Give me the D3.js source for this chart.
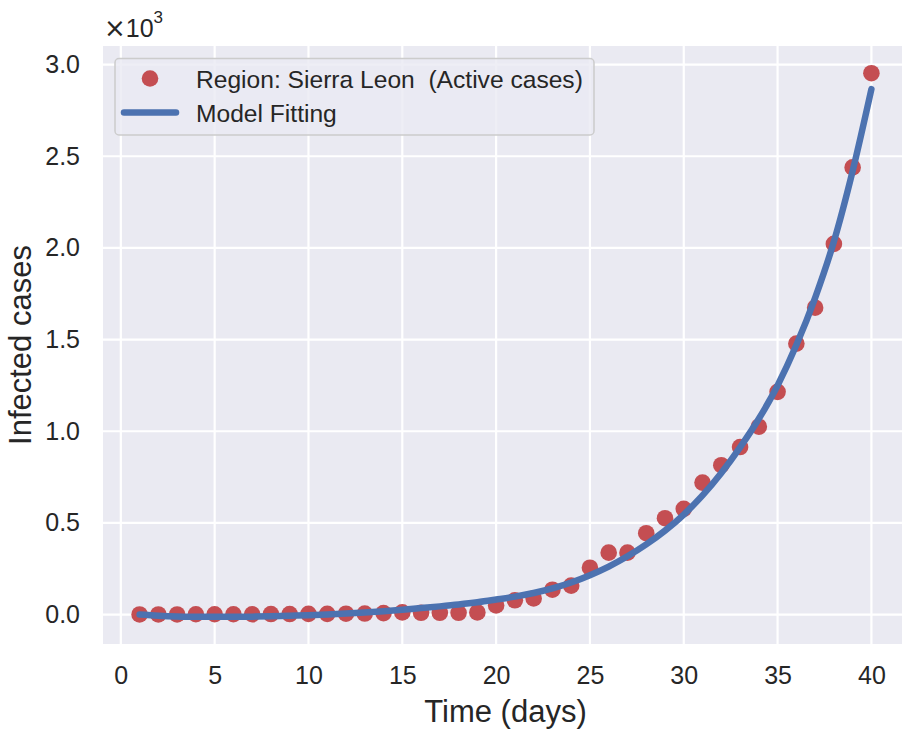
<!DOCTYPE html>
<html>
<head>
<meta charset="utf-8">
<script src="https://cdn.jsdelivr.net/npm/d3@7"></script>
<style>
  html, body { margin: 0; padding: 0; background: #ffffff; }
  svg { display: block; }
  text { font-family: "Liberation Sans", Arial, sans-serif; fill: #262626; white-space: pre; }
</style>
</head>
<body>
<svg id="chart" width="902" height="730"></svg>
<script>
// ---- data ----
const days = d3.range(1, 41);
const activeCases = [1, 1, 1, 2, 2, 2, 2, 3, 3, 4,
                     4, 5, 6, 8, 12, 10, 10, 10, 12, 50,
                     78, 88, 136, 158, 256, 338, 338, 444, 526, 577,
                     720, 815, 914, 1025, 1215, 1478, 1674, 2022, 2439, 2953];
const modelFit = [0, -6, -10, -12, -12, -12, -11, -9, -6, -3,
                  1, 6, 12, 19, 27, 36, 45, 55, 67, 82,
                  98, 118, 143, 175, 215, 262, 318, 383, 458, 546,
                  650, 772, 912, 1068, 1250, 1470, 1728, 2035, 2420, 2866];
const xTicks = [0, 5, 10, 15, 20, 25, 30, 35, 40];
const yTicks = [0, 500, 1000, 1500, 2000, 2500, 3000];
const legendLabels = ["Region: Sierra Leon  (Active cases)", "Model Fitting"];
const xLabel = "Time (days)";
const yLabel = "Infected cases";

// ---- layout ----
const svg = d3.select("#chart");
const plot = { left: 103, right: 908, top: 46, bottom: 644 };
const red = "#C44E52", blue = "#4C72B0", bg = "#EAEAF2";

const xMin = d3.min(days), xMax = d3.max(days), xPad = 0.05 * (xMax - xMin);
const x = d3.scaleLinear().domain([xMin - xPad, xMax + xPad]).range([plot.left, plot.right]);
const allY = activeCases.concat(modelFit);
const yMin = d3.min(allY), yMax = d3.max(allY), yPad = 0.05 * (yMax - yMin);
const y = d3.scaleLinear().domain([yMin - yPad, yMax + yPad]).range([plot.bottom, plot.top]);

// background
svg.append("rect").attr("x", plot.left).attr("y", plot.top)
  .attr("width", plot.right - plot.left).attr("height", plot.bottom - plot.top)
  .attr("fill", bg);

// grid
const grid = svg.append("g");
grid.selectAll(".vg").data(xTicks).join("line")
  .attr("x1", d => x(d)).attr("x2", d => x(d))
  .attr("y1", plot.top).attr("y2", plot.bottom)
  .attr("stroke", "#ffffff").attr("stroke-width", 2.2);
grid.selectAll(".hg").data(yTicks).join("line")
  .attr("y1", d => y(d)).attr("y2", d => y(d))
  .attr("x1", plot.left).attr("x2", plot.right)
  .attr("stroke", "#ffffff").attr("stroke-width", 2.2);

// axes (labels only)
const xAxis = d3.axisBottom(x).tickValues(xTicks).tickSize(0).tickPadding(22).tickFormat(d3.format("d"));
const gx = svg.append("g").attr("transform", `translate(0,${plot.bottom})`).call(xAxis);
gx.select(".domain").remove();
gx.selectAll("text").attr("font-size", 25).attr("fill", "#262626")
  .style("font-family", '"Liberation Sans", Arial, sans-serif');

const yAxis = d3.axisLeft(y).tickValues(yTicks).tickSize(0).tickPadding(23)
  .tickFormat(d => (d / 1000).toFixed(1));
const gy = svg.append("g").attr("transform", `translate(${plot.left},0)`).call(yAxis);
gy.select(".domain").remove();
gy.selectAll("text").attr("font-size", 25).attr("fill", "#262626")
  .style("font-family", '"Liberation Sans", Arial, sans-serif');

// offset text ×10^3
const off = svg.append("text").attr("x", 104).attr("y", 37).attr("font-size", 25);
off.append("tspan").style("font-family", '"DejaVu Sans", sans-serif').attr("font-size", 26).text("×");
off.append("tspan").text("10");
off.append("tspan").attr("font-size", 17).attr("dy", -14).text("3");

// axis labels
svg.append("text").attr("x", (plot.left + plot.right) / 2).attr("y", 722)
  .attr("text-anchor", "middle").attr("font-size", 31).text(xLabel);
svg.append("text").attr("transform", `translate(31,${(plot.top + plot.bottom) / 2}) rotate(-90)`)
  .attr("text-anchor", "middle").attr("font-size", 31).text(yLabel);

// data
svg.append("clipPath").attr("id", "clip").append("rect")
  .attr("x", plot.left).attr("y", plot.top)
  .attr("width", plot.right - plot.left).attr("height", plot.bottom - plot.top);
const marks = svg.append("g").attr("clip-path", "url(#clip)");
marks.selectAll("circle").data(days).join("circle")
  .attr("cx", (d) => x(d)).attr("cy", (d, i) => y(activeCases[i]))
  .attr("r", 8.3).attr("fill", red);
const line = d3.line().x((d) => x(d)).y((d, i) => y(modelFit[i])).curve(d3.curveMonotoneX);
marks.append("path").attr("d", line(days)).attr("fill", "none")
  .attr("stroke", blue).attr("stroke-width", 6.5).attr("stroke-linecap", "round")
  .attr("stroke-linejoin", "round");

// legend
const lg = svg.append("g");
lg.append("rect").attr("x", 115).attr("y", 58.5).attr("width", 479).attr("height", 76.5)
  .attr("rx", 4).attr("fill", bg).attr("fill-opacity", 0.8)
  .attr("stroke", "#cccccc").attr("stroke-width", 1.5);
lg.append("circle").attr("cx", 150).attr("cy", 78.5).attr("r", 8.3).attr("fill", red);
lg.append("line").attr("x1", 124).attr("x2", 176).attr("y1", 112.5).attr("y2", 112.5)
  .attr("stroke", blue).attr("stroke-width", 6.5).attr("stroke-linecap", "round");
lg.append("text").attr("x", 196).attr("y", 87.5).attr("font-size", 24.6)
  .attr("xml:space", "preserve").text(legendLabels[0]);
lg.append("text").attr("x", 196).attr("y", 121.5).attr("font-size", 24.6).text(legendLabels[1]);
</script>
</body>
</html>
